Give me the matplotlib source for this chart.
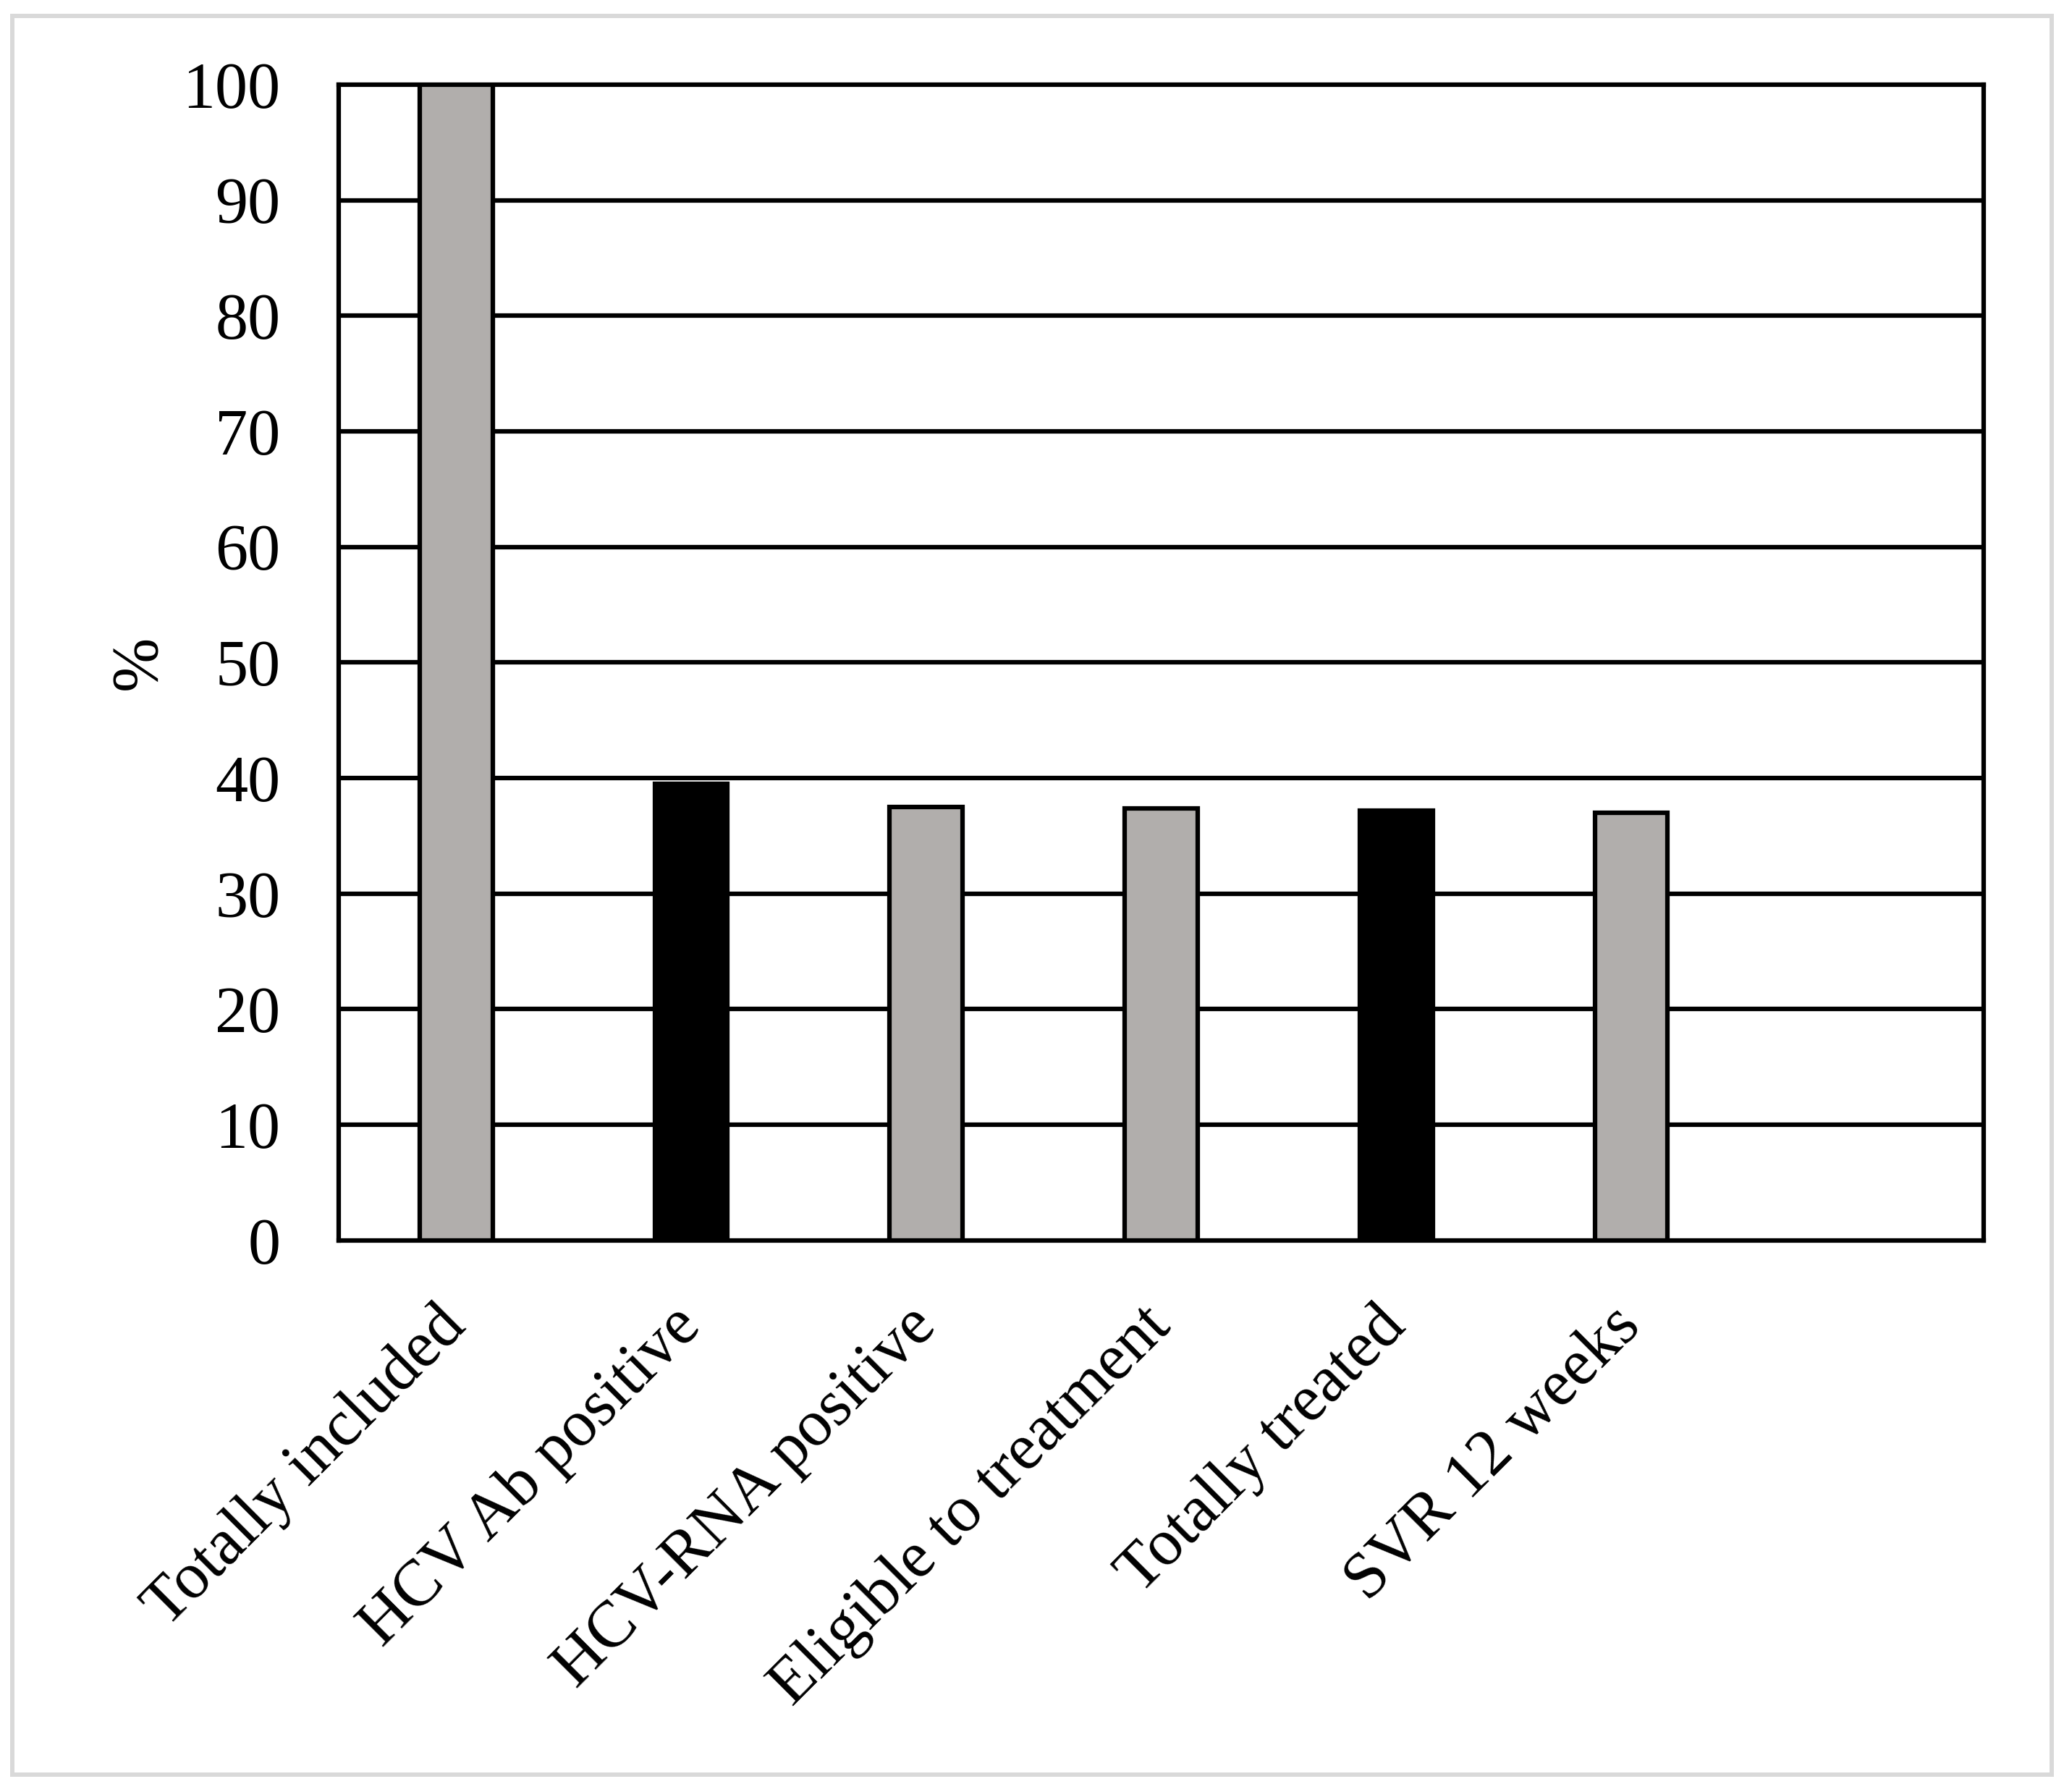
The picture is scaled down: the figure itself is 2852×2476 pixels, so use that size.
import numpy as np
import matplotlib
matplotlib.use("Agg")
import matplotlib.pyplot as plt
from matplotlib.patches import Rectangle

plt.rcParams["font.family"] = ["Liberation Serif", "DejaVu Serif"]

categories = ["Totally included", "HCV Ab positive", "HCV-RNA positive",
              "Eligible to treatment", "Totally treated", "SVR 12 weeks", ""]
values = [100, 39.5, 37.5, 37.4, 37.2, 37.0, 0]
colors = ["#b1aeac", "#000000", "#b1aeac", "#b1aeac", "#000000", "#b1aeac", "none"]
yticks = list(range(0, 101, 10))

fig = plt.figure(figsize=(28.52, 24.76), dpi=100)
ax = fig.add_axes([0.1641, 0.3078, 0.797, 0.645])

x = np.arange(len(categories))
# last slot is empty in the original chart
ax.bar(x[:-1], values[:-1], width=0.31, color=colors[:-1],
       edgecolor="black", linewidth=4.5, zorder=3)

ax.set_xlim(-0.5, len(categories) - 0.5)
ax.set_ylim(0, 100)
ax.set_yticks(yticks)
ax.set_yticklabels([str(t) for t in yticks], fontsize=65)
ax.tick_params(axis="y", length=0, pad=58)
ax.tick_params(axis="x", length=0, pad=76)
ax.set_xticks(x[:-1])
ax.set_xticklabels(categories[:-1], fontsize=65, rotation=45,
                   ha="right", va="center", rotation_mode="anchor")

for t in yticks[1:-1]:
    ax.axhline(t, color="black", lw=4.5, zorder=1)
for s in ax.spines.values():
    s.set_linewidth(4.5)

ax.set_ylabel("%", fontsize=65)
ax.yaxis.set_label_coords(-0.103, 0.5)

fig.patches.append(Rectangle((0.006, 0.0097), 0.988, 0.9813, transform=fig.transFigure,
                             fill=False, edgecolor="#d9d9d9", lw=4.3))

fig.savefig("out.png", dpi=100)
